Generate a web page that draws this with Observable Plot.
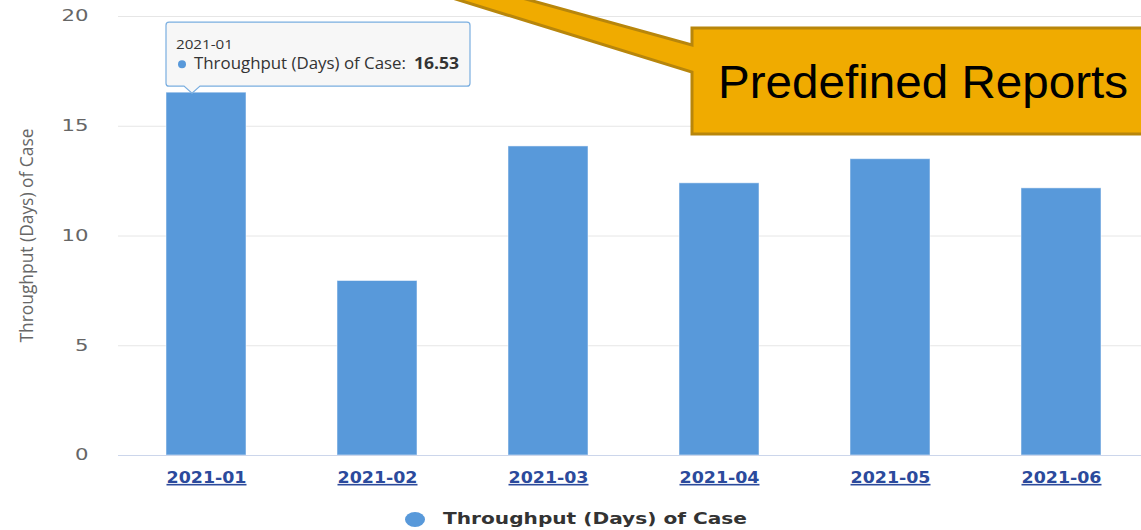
<!DOCTYPE html>
<html><head><meta charset="utf-8">
<script src="https://cdn.jsdelivr.net/npm/d3@7"></script>
<script src="https://cdn.jsdelivr.net/npm/@observablehq/plot@0.6"></script>
<style>
html,body{margin:0;padding:0;background:#fff;overflow:hidden;}
#wrap{position:relative;width:1141px;height:530px;overflow:hidden;}
#wrap svg{display:block;}
</style></head><body><div id="wrap"></div>
<script>
// ---- data ----
const months = ["2021-01", "2021-02", "2021-03", "2021-04", "2021-05", "2021-06"];
const throughput = [16.53, 7.95, 14.08, 12.4, 13.5, 12.17];
const yTicks = [0, 5, 10, 15, 20];
const seriesName = "Throughput (Days) of Case";
const yAxisTitle = "Throughput (Days) of Case";
const tooltipIndex = 0;
const calloutText = "Predefined Reports";

const data = months.map((m, i) => ({month: m, value: throughput[i]}));
const barColor = "#5899da";

const chart = Plot.plot({
  width: 1141, height: 500,
  marginLeft: 118, marginRight: 0, marginTop: 16, marginBottom: 45,
  style: {background: "#fff", overflow: "visible"},
  x: {domain: months, range: [118, 1149], paddingInner: 0.534, paddingOuter: 0.267},
  y: {domain: [0, 20], range: [455, 16]},
  marks: [
    Plot.gridY(yTicks.filter(d => d > 0), {stroke: "#e6e6e6", strokeOpacity: 1}),
    Plot.barY(data, {x: "month", y: "value", fill: barColor, stroke: "#ffffff", strokeOpacity: 0.5, strokeWidth: 1}),
    Plot.ruleY([0], {stroke: "#ccd6eb"}),
    Plot.axisY({ticks: yTicks, tickSize: 0, tickPadding: 30, fontSize: 15, label: null, color: "#666"}),
    Plot.axisX({tickSize: 0, tickPadding: 16, fontSize: 16, fontWeight: "bold", color: "#2b4a9c", label: null})
  ]
});

const svg = d3.select(chart);
svg.selectAll('g[aria-label="y-axis tick label"] text').each(function() {
  const t = this.textContent;
  this.setAttribute("textLength", t.length * 13.5);
  this.setAttribute("lengthAdjust", "spacingAndGlyphs");
  this.setAttribute("font-family", "DejaVu Sans");
});
svg.selectAll('g[aria-label="x-axis tick label"] text').each(function() {
  this.setAttribute("textLength", 80);
  this.setAttribute("lengthAdjust", "spacingAndGlyphs");
  this.setAttribute("font-family", "DejaVu Sans");
  this.style.textDecoration = "underline";
});

// y axis title
svg.append("text")
  .attr("transform", "translate(33,235.5) scale(1.35,1) rotate(-90)")
  .attr("text-anchor", "middle")
  .attr("font-family", "Open Sans")
  .attr("font-size", 14)
  .attr("fill", "#666")
  .attr("textLength", 214)
  .attr("lengthAdjust", "spacingAndGlyphs")
  .text(yAxisTitle);

// tooltip anchored on the bar via scales
const xs = chart.scale("x"), ys = chart.scale("y");
const bx = xs.apply(months[tooltipIndex]);
const by = ys.apply(throughput[tooltipIndex]);
const tip = svg.append("g").attr("text-anchor", "start");
const tl = bx, tt = by - 70, tw = 304, th = 64, px = bx + 26;
tip.append("path")
  .attr("d", `M${tl+3},${tt} H${tl+tw-3} Q${tl+tw},${tt} ${tl+tw},${tt+3} V${tt+th-3} Q${tl+tw},${tt+th} ${tl+tw-3},${tt+th} H${px+8} L${px},${tt+th+7} L${px-8},${tt+th} H${tl+3} Q${tl},${tt+th} ${tl},${tt+th-3} V${tt+3} Q${tl},${tt} ${tl+3},${tt} Z`)
  .attr("fill", "#f7f7f7").attr("stroke", "#7aaee0").attr("stroke-width", 1.2);
tip.append("text").attr("x", tl + 10).attr("y", tt + 27).attr("text-anchor", "start")
  .attr("font-family", "Open Sans").attr("font-size", 13).attr("fill", "#333")
  .attr("textLength", 57).attr("lengthAdjust", "spacingAndGlyphs")
  .text(months[tooltipIndex]);
tip.append("circle").attr("cx", tl + 16).attr("cy", tt + 42).attr("r", 4).attr("fill", barColor);
tip.append("text").attr("x", tl + 28).attr("y", tt + 47).attr("text-anchor", "start")
  .attr("font-family", "Open Sans").attr("font-size", 16).attr("fill", "#333")
  .attr("textLength", 212).attr("lengthAdjust", "spacingAndGlyphs")
  .text(seriesName + ":");
tip.append("text").attr("x", tl + 248).attr("y", tt + 47).attr("text-anchor", "start")
  .attr("font-family", "Open Sans").attr("font-size", 16).attr("font-weight", "bold").attr("fill", "#333")
  .attr("textLength", 45).attr("lengthAdjust", "spacingAndGlyphs")
  .text(String(throughput[tooltipIndex]));

// callout
const co = svg.append("g").attr("text-anchor", "start");
co.append("path")
  .attr("d", "M692,134 V72 L394,-20 L457,-20 L692,45 V28 H1170 V134 Z")
  .attr("fill", "#f0ab00").attr("stroke", "#b8860b").attr("stroke-width", 3).attr("stroke-linejoin", "miter");
co.append("text").attr("x", 718).attr("y", 98).attr("text-anchor", "start")
  .attr("font-family", "Liberation Sans, Arial, sans-serif").attr("font-size", 46).attr("fill", "#000")
  .attr("textLength", 410).attr("lengthAdjust", "spacingAndGlyphs")
  .text(calloutText);

const wrap = document.getElementById("wrap");
wrap.appendChild(chart);

// legend below the chart
const leg = d3.create("svg").attr("width", 1141).attr("height", 30);
leg.append("ellipse").attr("cx", 415).attr("cy", 19.5).attr("rx", 10).attr("ry", 7.5).attr("fill", barColor);
leg.append("text").attr("x", 443).attr("y", 24).attr("text-anchor", "start")
  .attr("font-family", "DejaVu Sans").attr("font-weight", "bold").attr("font-size", 16).attr("fill", "#333")
  .attr("textLength", 304).attr("lengthAdjust", "spacingAndGlyphs")
  .text(seriesName);
wrap.appendChild(leg.node());
</script>
</body></html>
